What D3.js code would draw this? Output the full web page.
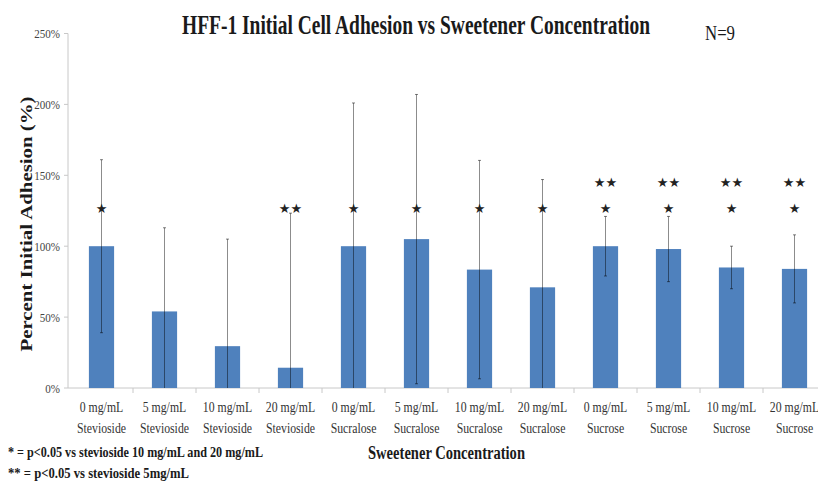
<!DOCTYPE html>
<html>
<head>
<meta charset="utf-8">
<script src="https://cdn.jsdelivr.net/npm/d3@7"></script>
<style>
  body { margin: 0; background: #fff; }
  svg { display: block; }
  text { font-family: "Liberation Serif", "Times New Roman", serif; fill: #1a1a1a; }
</style>
</head>
<body>
<div id="chart"></div>
<script>
// doses and sweeteners for each bar
var doses = ["0 mg/mL", "5 mg/mL", "10 mg/mL", "20 mg/mL",
             "0 mg/mL", "5 mg/mL", "10 mg/mL", "20 mg/mL",
             "0 mg/mL", "5 mg/mL", "10 mg/mL", "20 mg/mL"];
var sweeteners = ["Stevioside", "Stevioside", "Stevioside", "Stevioside",
                  "Sucralose", "Sucralose", "Sucralose", "Sucralose",
                  "Sucrose", "Sucrose", "Sucrose", "Sucrose"];
// mean percent initial adhesion
var means = [100, 54, 29.5, 14.3, 100, 105, 83.5, 71, 100, 98, 85, 84];
// error (+/-)
var errs = [61, 59, 75.5, 109, 101, 102, 77, 76, 21, 23, 15, 24];
// significance marks
var sigLow = ["*", "", "", "**", "*", "*", "*", "*", "*", "*", "*", "*"];
var sigHigh = ["", "", "", "", "", "", "", "", "**", "**", "**", "**"];
var yTicks = [0, 50, 100, 150, 200, 250];

var width = 818, height = 485;
var svg = d3.select("#chart").append("svg")
  .attr("width", width)
  .attr("height", height);

var x = d3.scaleBand()
  .domain(d3.range(means.length))
  .range([70, 826])
  .paddingInner(0.6)
  .paddingOuter(0.3);

var y = d3.scaleLinear()
  .domain([0, 250])
  .range([388, 33.5]);

var bars = means.map((m, i) => ({i: i, mean: m, hi: m + errs[i], lo: m - errs[i]}));

// squeeze text horizontally like the narrow serif in the original
function squeeze(sel, f) {
  sel.each(function() {
    var w = this.getComputedTextLength();
    d3.select(this)
      .attr("textLength", w * f)
      .attr("lengthAdjust", "spacingAndGlyphs");
  });
}

// y axis
svg.append("line")
  .attr("x1", 68).attr("x2", 68)
  .attr("y1", y(250)).attr("y2", y(0))
  .attr("stroke", "#c8c8c8");

var yt = svg.selectAll(".ytick")
  .data(yTicks)
  .enter()
  .append("g")
  .attr("class", "ytick")
  .attr("transform", d => `translate(68, ${y(d)})`);
yt.append("line")
  .attr("x1", -4).attr("x2", 0)
  .attr("stroke", "#c8c8c8");
yt.append("text")
  .attr("x", -8)
  .attr("dy", "0.35em")
  .attr("text-anchor", "end")
  .style("font-size", "13px")
  .style("fill", "#444")
  .text(d => d + "%")
  .call(squeeze, 0.85);

// x axis
svg.append("line")
  .attr("x1", 68).attr("x2", width)
  .attr("y1", y(0)).attr("y2", y(0))
  .attr("stroke", "#c8c8c8");

svg.selectAll(".xtick")
  .data(d3.range(1, means.length + 1))
  .enter()
  .append("line")
  .attr("class", "xtick")
  .attr("x1", i => 70 + i * x.step())
  .attr("x2", i => 70 + i * x.step())
  .attr("y1", y(0)).attr("y2", y(0) + 5)
  .attr("stroke", "#c8c8c8");

// bars
svg.selectAll(".bar")
  .data(bars)
  .enter()
  .append("rect")
  .attr("class", "bar")
  .attr("x", d => x(d.i))
  .attr("width", x.bandwidth())
  .attr("y", d => y(d.mean))
  .attr("height", d => y(0) - y(d.mean))
  .attr("fill", "#4f81bd");

// error bars
var eb = svg.selectAll(".err")
  .data(bars)
  .enter()
  .append("g")
  .attr("class", "err")
  .attr("transform", d => `translate(${x(d.i) + x.bandwidth() / 2}, 0)`);
eb.append("line")
  .attr("y1", d => y(d.hi))
  .attr("y2", d => y(Math.max(0, d.lo)))
  .attr("stroke", "#000")
  .attr("stroke-opacity", 0.45);
eb.append("line")
  .attr("x1", -1.5).attr("x2", 1.5)
  .attr("y1", d => y(d.hi))
  .attr("y2", d => y(d.hi))
  .attr("stroke", "#000")
  .attr("stroke-opacity", 0.5);
eb.filter(d => d.lo > 0)
  .append("line")
  .attr("x1", -1.5).attr("x2", 1.5)
  .attr("y1", d => y(d.lo))
  .attr("y2", d => y(d.lo))
  .attr("stroke", "#000")
  .attr("stroke-opacity", 0.5);

// significance stars
function stars(labels, level) {
  svg.selectAll(null)
    .data(labels)
    .enter()
    .append("text")
    .attr("x", (d, i) => x(i) + x.bandwidth() / 2)
    .attr("y", y(level))
    .attr("dy", "0.35em")
    .attr("text-anchor", "middle")
    .style("font-family", "DejaVu Sans, sans-serif")
    .style("font-size", "13px")
    .style("fill", "#222")
    .text(d => d.replace(/\*/g, "\u2605"));
}
stars(sigLow, 126.5);
stars(sigHigh, 145);

// category labels
var xl = svg.selectAll(".xlab")
  .data(doses)
  .enter()
  .append("text")
  .attr("class", "xlab")
  .attr("text-anchor", "middle")
  .attr("x", (d, i) => x(i) + x.bandwidth() / 2)
  .style("font-size", "14px")
  .style("fill", "#333");
xl.append("tspan")
  .attr("x", (d, i) => x(i) + x.bandwidth() / 2)
  .attr("y", 412)
  .text(d => d);
xl.append("tspan")
  .attr("x", (d, i) => x(i) + x.bandwidth() / 2)
  .attr("y", 433)
  .text((d, i) => sweeteners[i]);
xl.selectAll("tspan").call(squeeze, 0.84);

// titles
svg.append("text")
  .attr("x", 182).attr("y", 34)
  .attr("textLength", 468)
  .attr("lengthAdjust", "spacingAndGlyphs")
  .style("font-size", "27px")
  .style("font-weight", "bold")
  .text("HFF-1 Initial Cell Adhesion vs Sweetener Concentration");

svg.append("text")
  .attr("x", 705).attr("y", 40)
  .attr("textLength", 30)
  .attr("lengthAdjust", "spacingAndGlyphs")
  .style("font-size", "20px")
  .text("N=9");

svg.append("text")
  .attr("transform", "translate(32, 224) rotate(-90)")
  .attr("text-anchor", "middle")
  .attr("textLength", 255)
  .attr("lengthAdjust", "spacingAndGlyphs")
  .style("font-size", "16px")
  .style("font-weight", "bold")
  .text("Percent Initial Adhesion (%)");

svg.append("text")
  .attr("x", 368).attr("y", 459)
  .attr("textLength", 157)
  .attr("lengthAdjust", "spacingAndGlyphs")
  .style("font-size", "18px")
  .style("font-weight", "bold")
  .text("Sweetener Concentration");

// footnotes
svg.append("text")
  .attr("x", 8).attr("y", 457)
  .attr("textLength", 255)
  .attr("lengthAdjust", "spacingAndGlyphs")
  .style("font-size", "15px")
  .style("font-weight", "bold")
  .text("* = p<0.05 vs stevioside 10 mg/mL and 20 mg/mL");

svg.append("text")
  .attr("x", 8).attr("y", 478)
  .attr("textLength", 181)
  .attr("lengthAdjust", "spacingAndGlyphs")
  .style("font-size", "15px")
  .style("font-weight", "bold")
  .text("** = p<0.05 vs stevioside 5mg/mL");
</script>
</body>
</html>
